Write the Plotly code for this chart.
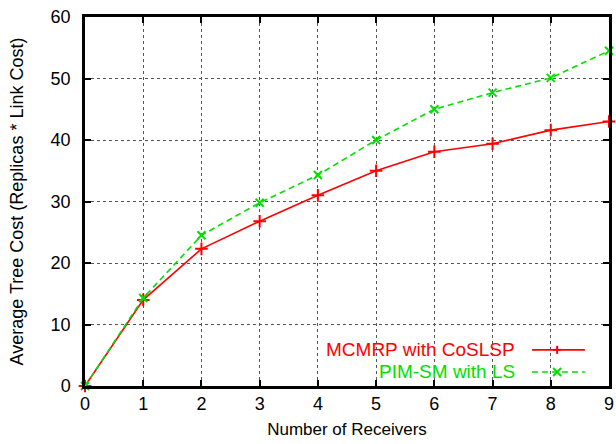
import plotly.graph_objects as go

receivers = [0, 1, 2, 3, 4, 5, 6, 7, 8, 9]
mcmrp_cost = [0, 14.0, 22.3, 26.8, 31.0, 35.0, 38.1, 39.4, 41.6, 43.0]
pim_cost = [0, 14.3, 24.5, 29.8, 34.3, 40.0, 45.0, 47.7, 50.1, 54.5]
series_names = ["MCMRP with CoSLSP", "PIM-SM with LS"]
x_ticks = [0, 1, 2, 3, 4, 5, 6, 7, 8, 9]
y_ticks = [0, 10, 20, 30, 40, 50, 60]

RED = "#ff0000"
GREEN = "#00e000"
FONT = "Liberation Sans, Arial, Helvetica, sans-serif"

fig = go.Figure()
fig.add_trace(go.Scatter(
    x=receivers, y=mcmrp_cost, mode="lines+markers", name=series_names[0],
    line=dict(color=RED, width=1.6),
    marker=dict(symbol="cross-thin", size=9, line=dict(color=RED, width=2)),
    cliponaxis=False, showlegend=False))
fig.add_trace(go.Scatter(
    x=receivers, y=pim_cost, mode="lines+markers", name=series_names[1],
    line=dict(color=GREEN, width=1.6, dash="6px,4px"),
    marker=dict(symbol="x-thin", size=8, line=dict(color=GREEN, width=2)),
    cliponaxis=False, showlegend=False))

# custom legend (text left of sample, gnuplot style)
legend_rows = [(series_names[0], RED, "solid", 0.098, "cross"),
               (series_names[1], GREEN, "dash", 0.038, "x")]
shapes = []
annotations = []
for name, col, dash, yp, sym in legend_rows:
    annotations.append(dict(x=0.825, y=yp, xref="paper", yref="paper", text=name,
                            showarrow=False, xanchor="right", yanchor="middle",
                            font=dict(color=col, size=19, family=FONT)))
    shapes.append(dict(type="line", xref="paper", yref="paper", x0=0.853, x1=0.954,
                       y0=yp, y1=yp, line=dict(color=col, width=1.6,
                       dash="solid" if dash == "solid" else "6px,4px")))
    cx = 0.901
    dx = 4 / 524
    dy = 4 / 369
    if sym == "cross":
        shapes.append(dict(type="line", xref="paper", yref="paper", x0=cx - dx, x1=cx + dx,
                           y0=yp, y1=yp, line=dict(color=col, width=2)))
        shapes.append(dict(type="line", xref="paper", yref="paper", x0=cx, x1=cx,
                           y0=yp - dy, y1=yp + dy, line=dict(color=col, width=2)))
    else:
        shapes.append(dict(type="line", xref="paper", yref="paper", x0=cx - dx, x1=cx + dx,
                           y0=yp - dy, y1=yp + dy, line=dict(color=col, width=2)))
        shapes.append(dict(type="line", xref="paper", yref="paper", x0=cx - dx, x1=cx + dx,
                           y0=yp + dy, y1=yp - dy, line=dict(color=col, width=2)))

axis_common = dict(
    showline=True, linecolor="black", linewidth=2.5, mirror="ticks",
    ticks="inside", ticklen=6, tickwidth=2, tickcolor="black",
    showgrid=True, gridcolor="#555555", gridwidth=1, griddash="dot",
    zeroline=False, tickfont=dict(size=18, color="black", family=FONT),
    automargin=False,
)

fig.update_layout(
    width=616, height=444,
    margin=dict(l=85, r=7, t=17, b=58),
    paper_bgcolor="white", plot_bgcolor="white",
    font=dict(family=FONT, color="black"),
    xaxis=dict(range=[0, 9], tickvals=x_ticks, ticklabelstandoff=0,
               title=dict(text="Number of Receivers", font=dict(size=17), standoff=10),
               **axis_common),
    yaxis=dict(range=[0, 60], tickvals=y_ticks, ticklabelstandoff=8,
               title=dict(text="Average Tree Cost (Replicas * Link Cost)", font=dict(size=18),
                          standoff=23),
               **axis_common),
    shapes=shapes, annotations=annotations,
)

fig.write_html("out.html", config={"displayModeBar": False},
               post_script="document.body.style.margin='0';")
